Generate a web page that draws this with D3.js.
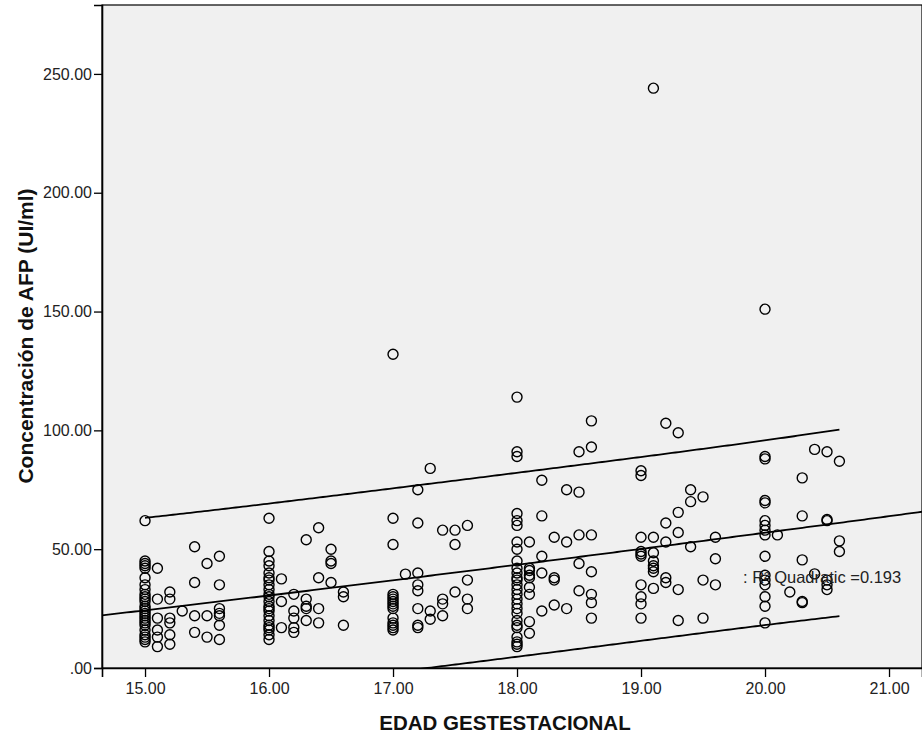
<!DOCTYPE html>
<html lang="es">
<head>
<meta charset="UTF-8">
<title>AFP vs Edad Gestacional</title>
<script src="https://cdn.jsdelivr.net/npm/d3@7"></script>
<style>
  body { margin: 0; background: #fff; font-family: "Liberation Sans", Arial, sans-serif; }
  svg { display: block; }
  .tick text { font-size: 16px; fill: #222; }
  .axis-title { font-weight: bold; fill: #111; }
</style>
</head>
<body>
<svg id="chart" width="922" height="740"></svg>
<script>
// gestational age (weeks.days) for each column of points
const ages = [15.0, 15.1, 15.2, 15.3, 15.4, 15.5, 15.6,
              16.0, 16.1, 16.2, 16.3, 16.4, 16.5, 16.6,
              17.0, 17.1, 17.2, 17.3, 17.4, 17.5, 17.6,
              18.0, 18.1, 18.2, 18.3, 18.4, 18.5, 18.6,
              19.0, 19.1, 19.2, 19.3, 19.4, 19.5, 19.6,
              20.0, 20.1, 20.2, 20.3, 20.4, 20.5, 20.6];

// AFP concentration (UI/ml) observed at each age
const afpByAge = [
  [62, 45, 44, 43, 42, 38, 35, 33, 31, 30, 29, 28, 26, 25, 24, 23, 22, 21, 20, 19, 18, 16, 14, 13, 12, 11],
  [42, 29, 21, 16, 13, 9],
  [32, 29, 21, 19, 14, 10],
  [24],
  [51, 36, 22, 15],
  [44, 22, 13],
  [47, 35, 25, 23, 22, 18, 12],
  [63, 49, 45, 43, 40, 38, 37, 35, 33, 31, 30, 28, 26, 25, 24, 22, 20, 18, 17, 16, 14, 12],
  [37.5, 28, 17],
  [31, 24, 21, 17, 15],
  [54, 29, 26, 25, 20],
  [59, 38, 25, 19],
  [50, 45, 44, 36],
  [32, 30, 18],
  [132, 63, 52, 31, 30, 29, 28, 27, 26, 25, 21, 19, 18, 17, 16],
  [39.5],
  [75, 61, 40, 35, 32.5, 25, 18, 17],
  [84, 24, 20.5],
  [58, 29, 27, 22],
  [58, 52, 32],
  [60, 37, 29, 25],
  [114, 91, 89, 65, 62, 60, 53, 50, 45, 42, 40, 38, 37, 35, 33, 31, 29, 27, 25, 23, 20, 18, 17, 13, 11, 10, 9],
  [53, 42, 41, 39, 38, 34, 31, 19.5, 14.6],
  [79, 64, 47, 40, 24],
  [55, 38, 37, 26.5],
  [75, 53, 25],
  [91, 74, 56, 44, 32.5],
  [104, 93, 56, 40.5, 31, 27.5, 21],
  [83, 81, 55, 49, 48, 47, 35, 30, 27, 21],
  [244, 55, 48.5, 45, 43, 42, 40.5, 33.5],
  [103, 61, 53, 38, 36],
  [99, 65.5, 57, 33, 20],
  [75, 70, 51],
  [72, 37, 21],
  [55, 46, 35],
  [151, 89, 88, 70.5, 69.5, 62, 60, 58, 56, 47, 39, 37, 35, 30, 26, 19],
  [56],
  [32],
  [80, 64, 45.5, 28, 27.5],
  [92, 39.6],
  [91, 62.5, 62, 37, 35, 33],
  [87, 53.5, 49]
];

const xTicks = [15, 16, 17, 18, 19, 20, 21];
const yTicks = [0, 50, 100, 150, 200, 250];
const fitLabel = ": R\u00B2 Quadratic =0.193";

const points = [];
ages.forEach((a, i) => afpByAge[i].forEach(v => points.push({ x: a, y: v })));

const svg = d3.select("#chart");
const plotL = 102, plotR = 922, plotT = 5, plotB = 668;

const x = d3.scaleLinear().domain([14.653, 21.266]).range([plotL, plotR]);
const y = d3.scaleLinear().domain([0, 279]).range([plotB, plotT]);

// plot background
svg.append("rect")
  .attr("x", plotL).attr("y", plotT)
  .attr("width", plotR - plotL).attr("height", plotB - plotT)
  .attr("fill", "#f0f0f0")
  .attr("stroke", "#000").attr("stroke-width", 1.2);

svg.append("defs").append("clipPath").attr("id", "plotclip")
  .append("rect").attr("x", plotL).attr("y", plotT)
  .attr("width", plotR - plotL).attr("height", plotB - plotT);

// quadratic least squares fit
function solve3(A, b) {
  const M = A.map((r, i) => r.concat([b[i]]));
  for (let c = 0; c < 3; c++) {
    let p = c;
    for (let r = c + 1; r < 3; r++) if (Math.abs(M[r][c]) > Math.abs(M[p][c])) p = r;
    [M[c], M[p]] = [M[p], M[c]];
    for (let r = 0; r < 3; r++) {
      if (r === c) continue;
      const f = M[r][c] / M[c][c];
      for (let k = c; k < 4; k++) M[r][k] -= f * M[c][k];
    }
  }
  return M.map((r, i) => r[3] / r[i]);
}
function invert3(A) {
  const cols = [[1, 0, 0], [0, 1, 0], [0, 0, 1]].map(e => solve3(A, e));
  return [0, 1, 2].map(i => [0, 1, 2].map(j => cols[j][i]));
}

const x0 = 18;
const XtX = [[0, 0, 0], [0, 0, 0], [0, 0, 0]], Xty = [0, 0, 0];
points.forEach(p => {
  const t = p.x - x0, row = [1, t, t * t];
  for (let i = 0; i < 3; i++) {
    Xty[i] += row[i] * p.y;
    for (let j = 0; j < 3; j++) XtX[i][j] += row[i] * row[j];
  }
});
const beta = solve3(XtX, Xty);
const XtXinv = invert3(XtX);
const predict = xv => { const t = xv - x0; return beta[0] + beta[1] * t + beta[2] * t * t; };
let sse = 0;
points.forEach(p => { sse += (p.y - predict(p.x)) ** 2; });
const s = Math.sqrt(sse / (points.length - 3));
const tcrit = 1.651; // 90% individual prediction interval
const predSE = xv => {
  const t = xv - x0, r = [1, t, t * t];
  let q = 0;
  for (let i = 0; i < 3; i++) for (let j = 0; j < 3; j++) q += r[i] * XtXinv[i][j] * r[j];
  return s * Math.sqrt(1 + q);
};

const lineGen = d3.line().x(d => x(d[0])).y(d => y(d[1]));
const fitXs = d3.range(200).map(i => 14.653 + i * (21.266 - 14.653) / 199);
const ciXs = d3.range(200).map(i => 15 + i * (20.6 - 15) / 199);

const fitG = svg.append("g").attr("clip-path", "url(#plotclip)");
fitG.append("path").datum(fitXs.map(v => [v, predict(v)]))
  .attr("d", lineGen).attr("fill", "none").attr("stroke", "#000").attr("stroke-width", 1.8);
fitG.append("path").datum(ciXs.map(v => [v, predict(v) + tcrit * predSE(v)]))
  .attr("d", lineGen).attr("fill", "none").attr("stroke", "#000").attr("stroke-width", 1.8);
fitG.append("path").datum(ciXs.map(v => [v, predict(v) - tcrit * predSE(v)]))
  .attr("d", lineGen).attr("fill", "none").attr("stroke", "#000").attr("stroke-width", 1.8);

// points
svg.append("g").selectAll("circle").data(points).join("circle")
  .attr("cx", d => x(d.x)).attr("cy", d => y(d.y)).attr("r", 5)
  .attr("fill", "none").attr("stroke", "#000").attr("stroke-width", 1.4);

// axes
const fmt = v => d3.format(".2f")(v).replace(/^0\./, ".");
svg.append("g").attr("transform", `translate(${plotL},0)`)
  .call(d3.axisLeft(y).tickValues(yTicks).tickFormat(fmt).tickSize(8).tickPadding(2))
  .call(g => g.select(".domain").attr("stroke-width", 1.6))
  .call(g => g.selectAll(".tick line").attr("stroke-width", 1.3));

svg.append("g").attr("transform", `translate(0,${plotB})`)
  .call(d3.axisBottom(x).tickValues(xTicks).tickFormat(d3.format(".2f")).tickSize(9).tickPadding(6))
  .call(g => g.select(".domain").attr("stroke-width", 1.6))
  .call(g => g.selectAll(".tick line").attr("stroke-width", 1.3));

svg.selectAll(".tick text").attr("font-family", "'Liberation Sans', Arial, sans-serif");

// fit label
svg.append("text").attr("x", 743).attr("y", 583)
  .attr("font-size", 16.5).attr("fill", "#222").text(fitLabel);

// titles
svg.append("text").attr("class", "axis-title")
  .attr("x", 505).attr("y", 730).attr("text-anchor", "middle")
  .attr("font-size", 20.5)
  .text("EDAD GESTESTACIONAL");
svg.append("text").attr("class", "axis-title")
  .attr("transform", "translate(33,336) rotate(-90)").attr("text-anchor", "middle")
  .attr("font-size", 21)
  .text("Concentración de AFP (UI/ml)");
</script>
</body>
</html>
